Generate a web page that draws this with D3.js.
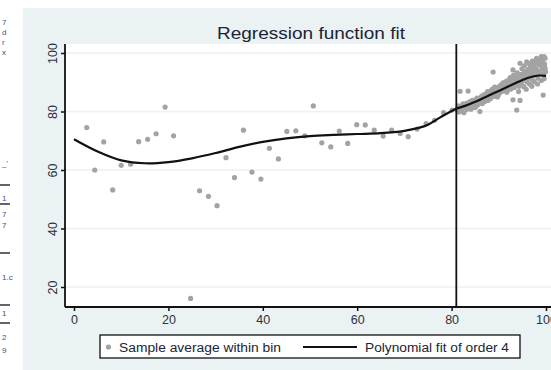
<!DOCTYPE html>
<html>
<head>
<meta charset="utf-8">
<script src="https://cdn.jsdelivr.net/npm/d3@7"></script>
<style>
  html, body { margin: 0; padding: 0; background: #ffffff; }
  svg { display: block; }
  text { font-family: "Liberation Sans", Arial, sans-serif; }
</style>
</head>
<body>
<svg id="chart" width="551" height="370"></svg>
<script>
// Binned sample averages, left of the threshold
const leftBinX = [2.7, 4.4, 6.3, 8.2, 10.0, 12.0, 13.7, 15.6, 17.4, 19.3, 21.1, 24.7, 26.6, 28.5, 30.3, 32.2, 34.0,
  35.9, 37.7, 39.6, 41.4, 43.3, 45.1, 47.0, 48.9, 50.7, 52.5, 54.4, 56.2, 58.0, 59.9, 61.7, 63.6, 65.5, 67.3, 69.1,
  70.8, 72.7, 74.6, 76.4, 78.3, 80.1];
const leftBinY = [74.5, 60.0, 69.6, 53.2, 61.6, 62.0, 69.7, 70.5, 72.4, 81.5, 71.7, 16.1, 52.9, 51.0, 47.8, 64.2, 57.4,
  73.6, 59.3, 56.9, 67.4, 63.8, 73.2, 73.4, 71.7, 81.9, 69.3, 67.9, 73.3, 69.1, 75.5, 75.4, 73.6, 71.6, 73.6, 72.5,
  71.4, 74.0, 75.9, 77.0, 79.6, 80.5];

// Binned sample averages, right of the threshold
const rightBinX = [81.2, 81.4, 81.5, 81.7, 81.8, 82.0, 82.1, 82.3, 82.5, 82.6, 82.8, 83.0, 83.1, 83.3, 83.5, 83.6,
  83.8, 84.0, 84.1, 84.3, 84.5, 84.6, 84.8, 85.0, 85.1, 85.3, 85.5, 85.7, 85.8, 86.0, 86.2, 86.3, 86.5, 86.7, 86.8,
  87.0, 87.2, 87.3, 87.5, 87.7, 87.8, 88.0, 88.2, 88.3, 88.5, 88.7, 88.8, 89.0, 89.2, 89.3, 89.5, 89.7, 89.8, 90.0,
  90.2, 90.3, 90.5, 90.7, 90.8, 91.0, 91.2, 91.3, 91.5, 91.7, 91.8, 92.0, 92.2, 92.3, 92.5, 92.7, 92.8, 93.0, 93.0,
  93.2, 93.3, 93.5, 93.7, 93.8, 94.0, 94.2, 94.3, 94.5, 94.5, 94.7, 94.8, 95.0, 95.2, 95.3, 95.5, 95.7, 95.9, 96.0,
  96.2, 96.3, 96.5, 96.7, 96.8, 97.0, 97.2, 97.3, 97.5, 97.7, 97.8, 98.0, 98.0, 98.2, 98.3, 98.5, 98.7, 98.8, 99.0,
  99.0, 99.2, 99.3, 99.4, 99.5, 99.7, 99.8, 99.9,
  81.3, 81.6, 81.9, 82.2, 82.4, 82.7, 82.9, 83.2, 83.4, 83.7, 83.9, 84.2, 84.4, 84.7, 84.9, 85.2, 85.4, 85.6, 85.9,
  86.1, 86.4, 86.6, 86.9, 87.1, 87.4, 87.6, 87.9, 88.1, 88.4, 88.6, 88.9, 89.1, 89.4, 89.6, 89.9, 90.1, 90.4, 90.6,
  90.9, 91.1, 91.4, 91.6, 91.9, 92.1, 92.4, 92.6, 92.9, 93.1, 93.4, 93.6, 93.9, 94.1, 94.4, 94.6, 94.9, 95.1, 95.4,
  95.6, 95.8, 96.1, 96.4, 96.6, 96.9, 97.1, 97.4, 97.6, 97.9, 98.1, 98.4, 98.6, 98.9, 99.1, 99.3, 99.6, 99.8, 99.6,
  98.2, 97.0, 95.8, 94.2];
const rightBinY = [80.4, 81.9, 79.8, 80.9, 86.9, 81.3, 80.2, 82.0, 81.0, 79.6, 81.7, 82.4, 80.6, 81.9, 87.0, 82.8,
  81.2, 83.1, 80.8, 82.3, 81.6, 83.6, 82.6, 81.4, 84.0, 83.0, 82.2, 84.4, 83.4, 80.0, 84.8, 83.9, 82.7, 85.2, 84.2,
  83.4, 85.7, 84.6, 86.3, 83.8, 85.1, 86.0, 84.4, 87.1, 85.6, 86.7, 93.5, 85.2, 87.4, 86.2, 88.0, 85.0, 87.0, 88.4,
  86.4, 87.8, 89.1, 86.9, 88.3, 89.6, 87.4, 88.8, 90.2, 86.6, 89.2, 88.0, 90.8, 89.6, 87.6, 91.2, 88.8, 94.2, 84.0,
  90.1, 88.2, 91.6, 89.5, 80.5, 92.2, 90.5, 88.6, 96.5, 83.8, 91.4, 89.8, 92.8, 90.8, 88.5, 93.6, 91.7, 97.0, 90.1,
  94.4, 92.4, 89.4, 95.2, 93.0, 91.0, 96.0, 93.8, 90.2, 95.0, 92.6, 98.2, 96.6, 94.0, 91.4, 97.4, 93.2, 95.8, 98.8,
  90.6, 94.6, 97.0, 85.6, 92.4, 96.2, 98.2, 93.6,
  81.0, 80.5, 81.6, 80.9, 82.6, 81.3, 80.7, 82.9, 81.5, 82.0, 83.4, 81.9, 83.8, 82.0, 83.3, 82.6, 84.6, 83.7, 82.8,
  84.1, 85.3, 83.5, 85.8, 84.3, 85.2, 86.8, 84.9, 86.5, 85.0, 87.6, 86.0, 88.3, 86.9, 87.8, 85.6, 87.2, 88.9, 87.9,
  89.8, 88.4, 87.2, 89.6, 90.6, 89.0, 91.6, 89.8, 90.6, 92.4, 89.6, 91.0, 93.2, 91.3, 89.2, 92.6, 94.6, 91.8, 95.6,
  92.4, 90.6, 93.4, 96.4, 91.6, 94.8, 97.2, 92.4, 96.8, 94.4, 97.8, 93.0, 96.0, 97.6, 92.8, 95.2, 98.8, 94.8, 91.2,
  89.4, 88.6, 87.6, 86.8];

// Fourth-order polynomial fit, evaluated on each side of the threshold
const fitLeftX = [0, 5, 10, 15, 20, 25, 30, 35, 40, 45, 50, 55, 60, 65, 70, 73, 75, 77.5, 81];
const fitLeftY = [70.5, 66.3, 63.3, 62.3, 62.7, 64.0, 65.8, 67.9, 69.6, 70.8, 71.6, 72.0, 72.3, 72.6, 73.4, 74.4, 75.5, 77.9, 81.0];
const fitRightX = [81, 83, 85, 87, 89, 91, 93, 95, 97, 98.5, 100];
const fitRightY = [81.0, 82.0, 83.3, 84.8, 86.3, 87.8, 89.3, 90.8, 91.9, 92.3, 92.2];

const threshold = 81;
const xTicks = [0, 20, 40, 60, 80, 100];
const yTicks = [20, 40, 60, 80, 100];
const titleText = "Regression function fit";
const legendLabels = ["Sample average within bin", "Polynomial fit of order 4"];

// Neighbouring table column, cut off at the left edge
const sideGlyphs = [["7", 22], ["d", 32], ["r", 42], ["x", 52], ["_'", 163], ["1", 198], ["7", 214], ["7", 225],
  ["1.c", 277], ["1", 313], ["2", 337], ["9", 350]];
const sideRules = [185, 204, 253, 305, 323];

const svg = d3.select("#chart");
const W = 551, H = 370;

// Graph region background
svg.append("rect").attr("x", 23).attr("y", 8).attr("width", W - 23).attr("height", H - 8).attr("fill", "#eaf2f3");

// Side fragments
svg.append("clipPath").attr("id", "sideClip").append("rect").attr("x", 0).attr("y", 0).attr("width", 15).attr("height", H);
const sideG = svg.append("g").attr("clip-path", "url(#sideClip)");
sideG.selectAll("text.side").data(sideGlyphs).join("text")
  .attr("class", "side")
  .attr("x", 2).attr("y", d => d[1] + 3)
  .attr("font-size", 8).attr("fill", "#3f507a")
  .text(d => d[0]);
sideG.selectAll("line.rule").data(sideRules).join("line")
  .attr("x1", 0).attr("x2", 10).attr("y1", d => d).attr("y2", d => d)
  .attr("stroke", "#222").attr("stroke-width", 1.4);

// Scales
const x = d3.scaleLinear().domain([0, 100]).range([74, 546]);
const y = d3.scaleLinear().domain([20, 100]).range([287, 53]);
const plotLeft = 65, plotTop = 44, plotBottom = 307, plotRight = W;

// Plot area
svg.append("rect").attr("x", plotLeft).attr("y", plotTop)
  .attr("width", plotRight - plotLeft).attr("height", plotBottom - plotTop).attr("fill", "#ffffff");

// Horizontal grid lines
svg.append("g").selectAll("line").data(yTicks).join("line")
  .attr("x1", plotLeft).attr("x2", plotRight)
  .attr("y1", d => y(d)).attr("y2", d => y(d))
  .attr("stroke", "#eaf2f3").attr("stroke-width", 1.5);

// Title
svg.append("text").attr("x", 311).attr("y", 39)
  .attr("text-anchor", "middle").attr("font-size", 16.5).attr("fill", "#1b2433")
  .attr("textLength", 188).attr("lengthAdjust", "spacingAndGlyphs")
  .text(titleText);

// Scatter of bin averages
const pts = leftBinX.map((v, i) => [v, leftBinY[i]]).concat(rightBinX.map((v, i) => [v, rightBinY[i]]));
svg.append("g").selectAll("circle").data(pts).join("circle")
  .attr("cx", d => x(d[0])).attr("cy", d => y(d[1])).attr("r", 2.6)
  .attr("fill", "#a3a3a3");

// Threshold marker
svg.append("line").attr("x1", x(threshold)).attr("x2", x(threshold))
  .attr("y1", plotTop).attr("y2", plotBottom)
  .attr("stroke", "#111").attr("stroke-width", 1.8);

// Polynomial fits
const line = d3.line().x(d => x(d[0])).y(d => y(d[1])).curve(d3.curveCatmullRom.alpha(0.5));
[[fitLeftX, fitLeftY], [fitRightX, fitRightY]].forEach(([fx, fy]) => {
  svg.append("path").datum(fx.map((v, i) => [v, fy[i]]))
    .attr("d", line).attr("fill", "none").attr("stroke", "#111").attr("stroke-width", 2.2);
});

// Axes
const yAxis = svg.append("g").attr("transform", `translate(${plotLeft},0)`)
  .call(d3.axisLeft(y).tickValues(yTicks).tickSize(4).tickPadding(3));
yAxis.select(".domain").attr("d", `M0,${plotTop}V${plotBottom}`).attr("stroke", "#111").attr("stroke-width", 1.8);
yAxis.selectAll(".tick line").attr("stroke", "#111").attr("stroke-width", 1.5);
yAxis.selectAll(".tick text")
  .attr("x", null).attr("dy", null)
  .attr("text-anchor", "middle")
  .attr("transform", "translate(-13,0) rotate(-90)")
  .attr("dy", "0.36em")
  .attr("font-size", 12.5).attr("fill", "#2a3140")
  .attr("font-family", "Liberation Sans, Arial, sans-serif");

const xAxis = svg.append("g").attr("transform", `translate(0,${plotBottom})`)
  .call(d3.axisBottom(x).tickValues(xTicks).tickSize(4).tickPadding(4));
xAxis.select(".domain").attr("d", `M${plotLeft},0H${plotRight}`).attr("stroke", "#111").attr("stroke-width", 1.8);
xAxis.selectAll(".tick line").attr("stroke", "#111").attr("stroke-width", 1.5);
xAxis.selectAll(".tick text")
  .attr("font-size", 12.5).attr("fill", "#2a3140")
  .attr("font-family", "Liberation Sans, Arial, sans-serif");

// Legend
const lg = svg.append("g");
lg.append("rect").attr("x", 100).attr("y", 335).attr("width", 420).attr("height", 23)
  .attr("fill", "#ffffff").attr("stroke", "#111").attr("stroke-width", 1.3);
lg.append("circle").attr("cx", 108.5).attr("cy", 347).attr("r", 2.6).attr("fill", "#a3a3a3");
lg.append("text").attr("x", 119).attr("y", 351.5).attr("font-size", 12.5).attr("fill", "#1b2433")
  .attr("textLength", 162).attr("lengthAdjust", "spacingAndGlyphs").text(legendLabels[0]);
lg.append("line").attr("x1", 303).attr("x2", 357).attr("y1", 347).attr("y2", 347)
  .attr("stroke", "#111").attr("stroke-width", 2);
lg.append("text").attr("x", 365).attr("y", 351.5).attr("font-size", 12.5).attr("fill", "#1b2433")
  .attr("textLength", 144).attr("lengthAdjust", "spacingAndGlyphs").text(legendLabels[1]);
</script>
</body>
</html>
